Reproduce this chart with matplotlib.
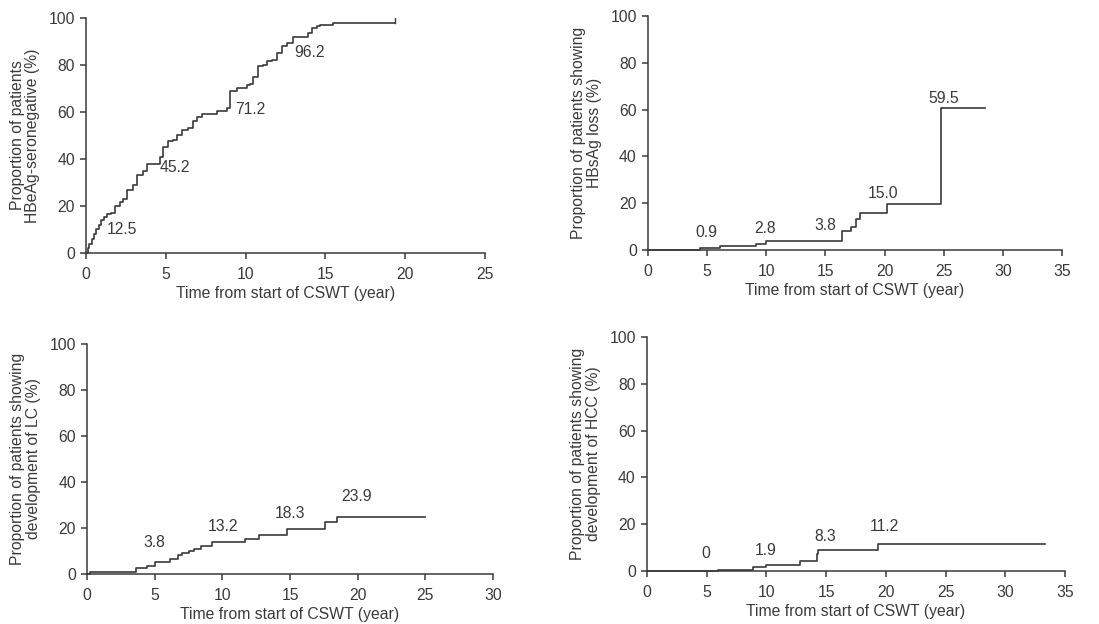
import matplotlib.pyplot as plt

plt.rcParams['font.family'] = ['Liberation Sans', 'DejaVu Sans']

# Panel A: HBeAg seroconversion
t_a = [0, 0.1, 0.2, 0.35, 0.5, 0.65, 0.8, 0.95, 1.1, 1.29, 1.55, 1.82, 2.1, 2.34, 2.55, 2.96, 3.17,
       3.59, 3.8, 4.32, 4.63, 4.84, 5.16, 5.47, 5.68, 5.99, 6.41, 6.72, 6.93, 7.24, 7.97, 8.18,
       8.81, 9.02, 9.44, 10.06, 10.27, 10.48, 10.79, 11.1, 11.32, 11.63, 11.94, 12.25, 12.57,
       12.99, 13.61, 13.92, 14.13, 14.45, 14.66, 15.49, 19.35]
p_a = [0, 2, 4, 6, 8, 10, 12, 14, 15.5, 16.5, 17, 20, 21.5, 23, 27, 29, 33,
       35, 38, 38, 41, 45, 47.5, 48, 50, 52.5, 53, 56, 58, 59, 59, 60.3,
       61.7, 68.8, 70, 71.6, 72, 75, 79.4, 80, 81.6, 82, 85, 88, 89.4,
       92, 92, 93.6, 95.7, 96.5, 97, 98, 98]

# Panel B: HBsAg loss
t_b = [0, 4.4, 6.07, 9.17, 10.0, 16.1, 16.4, 17.2, 17.6, 17.9, 20.2, 24.8, 28.5]
p_b = [0, 0.9, 1.85, 2.7, 3.7, 3.7, 8.25, 10.0, 13.2, 15.6, 19.5, 60.5, 60.5]

# Panel C: LC development
t_c = [0, 0.2, 3.65, 4.4, 4.76, 5.0, 6.1, 6.7, 7.0, 7.5, 7.9, 8.4, 8.9, 9.2, 11.7, 12.7,
       14.75, 17.6, 18.45, 25.0]
p_c = [0, 0.7, 2.5, 3.5, 3.5, 5.1, 6.4, 8.1, 9.0, 10.0, 10.9, 12.3, 12.3, 14.0, 15.2, 17.0,
       19.4, 22.5, 24.9, 24.9]

# Panel D: HCC development
t_d = [0, 5.95, 8.9, 10.0, 12.8, 14.2, 14.3, 19.36, 33.3]
p_d = [0, 0.6, 1.7, 2.7, 4.3, 7.4, 8.9, 11.7, 11.7]

labels_a = [(2.23, 9.9, '12.5'), (5.57, 36.2, '45.2'), (10.27, 61, '71.2'), (14.0, 85.4, '96.2')]
labels_b = [(4.94, 7.5, '0.9'), (9.88, 9.0, '2.8'), (14.96, 10.4, '3.8'),
            (19.9, 24.2, '15.0'), (24.98, 64.7, '59.5')]
labels_c = [(5.0, 13.6, '3.8'), (10.07, 20.6, '13.2'), (15.0, 26.4, '18.3'), (19.94, 33.6, '23.9')]
labels_d = [(4.89, 7.4, '0'), (9.94, 8.9, '1.9'), (14.9, 14.6, '8.3'), (19.9, 18.9, '11.2')]

xlabel = 'Time from start of CSWT (year)'
ink = '#3a3a3a'
fs = 11.3

panels = [
    ([0.0783, 0.5946, 0.3630, 0.3766], t_a, p_a, labels_a, 25,
     'Proportion of patients\nHBeAg-seronegative (%)'),
    ([0.5896, 0.5994, 0.3767, 0.3750], t_b, p_b, labels_b, 35,
     'Proportion of patients showing\nHBsAg loss (%)'),
    ([0.0792, 0.0801, 0.3694, 0.3686], t_c, p_c, labels_c, 30,
     'Proportion of patients showing\ndevelopment of LC (%)'),
    ([0.5887, 0.0849, 0.3803, 0.3750], t_d, p_d, labels_d, 35,
     'Proportion of patients showing\ndevelopment of HCC (%)'),
]

fig = plt.figure(figsize=(10.99, 6.24), dpi=100)

for rect, t, p, labs, xmax, ylab in panels:
    ax = fig.add_axes(rect)
    ax.step(t, p, where='post', color=ink, lw=1.2, clip_on=False)
    for x, y, s in labs:
        ax.text(x, y, s, ha='center', va='center', fontsize=fs, color=ink)
    ax.set_xlim(0, xmax)
    ax.set_ylim(0, 100)
    ax.set_xticks(range(0, xmax + 1, 5))
    ax.set_yticks(range(0, 101, 20))
    for side in ['top', 'right']:
        ax.spines[side].set_visible(False)
    for side in ['left', 'bottom']:
        ax.spines[side].set_color(ink)
        ax.spines[side].set_linewidth(1.1)
    ax.tick_params(direction='out', length=4, width=1.1, colors=ink, labelsize=fs)
    ax.tick_params(axis='x', pad=6)
    ax.tick_params(axis='y', pad=4)
    ax.set_xlabel(xlabel, fontsize=fs, color=ink, labelpad=3)
    ax.set_ylabel(ylab, fontsize=fs, color=ink, labelpad=6, linespacing=1.05)

# censoring mark at end of panel A
fig.axes[0].plot([t_a[-1], t_a[-1]], [p_a[-1], p_a[-1] + 2], color=ink, lw=1.0)

fig.savefig('out.png', dpi=100)
